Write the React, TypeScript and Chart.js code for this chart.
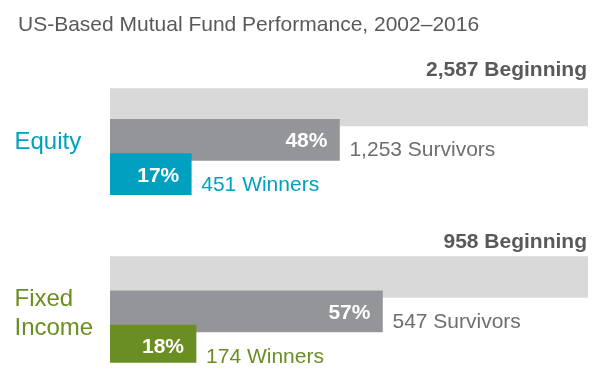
import React, { useEffect, useRef } from "react";
import { Chart, registerables } from "chart.js";

Chart.register(...registerables);

const TITLE = "US-Based Mutual Fund Performance, 2002–2016";
const groupNames = ["Equity", "Fixed Income"];
const groupLabelLines = [["Equity"], ["Fixed", "Income"]];
const beginningCounts = [2587, 958];
const survivorCounts = [1253, 547];
const winnerCounts = [451, 174];
const beginningPct = [100, 100];
const survivorPct = [48, 57];
const winnerPct = [17, 18];
const groupColors = ["#00a1be", "#6a8e22"];
const beginningColor = "#d9d9d9";
const survivorColor = "#939598";
const stageNames = ["Beginning", "Survivors", "Winners"];

const FONT = '"Liberation Sans", Arial, Helvetica, sans-serif';
const GAP_ROWS = 2;

const rows: string[] = [];
const rowIndex: number[][] = [];
groupNames.forEach((g, gi) => {
  if (gi > 0) for (let k = 0; k < GAP_ROWS; k++) rows.push("");
  const idx: number[] = [];
  stageNames.forEach((s) => {
    idx.push(rows.length);
    rows.push(`${g} ${s}`);
  });
  rowIndex.push(idx);
});

function seriesFor(stage: number, values: number[]) {
  const arr: (number | null)[] = rows.map(() => null);
  values.forEach((v, gi) => {
    arr[rowIndex[gi][stage]] = v;
  });
  return arr;
}

function colorsFor(stage: number) {
  const arr: string[] = rows.map(() => "transparent");
  groupColors.forEach((c, gi) => {
    arr[rowIndex[gi][stage]] = c;
  });
  return arr;
}

const fmt = (n: number) => n.toLocaleString("en-US");

const labelPlugin = {
  id: "fundLabels",
  afterDatasetsDraw(chart: any) {
    const ctx = chart.ctx as CanvasRenderingContext2D;
    ctx.save();
    ctx.textBaseline = "alphabetic";
    // title
    ctx.font = `21px ${FONT}`;
    ctx.fillStyle = "#595959";
    ctx.textAlign = "left";
    ctx.fillText(TITLE, 18, 31);

    const mB = chart.getDatasetMeta(0);
    const mS = chart.getDatasetMeta(1);
    const mW = chart.getDatasetMeta(2);

    groupNames.forEach((g, gi) => {
      const eB = mB.data[rowIndex[gi][0]];
      const eS = mS.data[rowIndex[gi][1]];
      const eW = mW.data[rowIndex[gi][2]];

      // beginning label
      ctx.font = `bold 21px ${FONT}`;
      ctx.fillStyle = "#595959";
      ctx.textAlign = "right";
      ctx.fillText(`${fmt(beginningCounts[gi])} Beginning`, eB.x - 1, eB.y - eB.height / 2 - 9);

      // survivors
      ctx.font = `bold 21px ${FONT}`;
      ctx.fillStyle = "#ffffff";
      ctx.textAlign = "right";
      ctx.fillText(`${survivorPct[gi]}%`, eS.x - 12, eS.y + 7.5);
      ctx.font = `21px ${FONT}`;
      ctx.fillStyle = "#6d6e71";
      ctx.textAlign = "left";
      ctx.fillText(`${fmt(survivorCounts[gi])} Survivors`, eS.x + 10, eS.y + 16.5);

      // winners
      ctx.font = `bold 21px ${FONT}`;
      ctx.fillStyle = "#ffffff";
      ctx.textAlign = "right";
      ctx.fillText(`${winnerPct[gi]}%`, eW.x - 12, eW.y + 7.5);
      ctx.font = `21px ${FONT}`;
      ctx.fillStyle = groupColors[gi];
      ctx.textAlign = "left";
      ctx.fillText(`${fmt(winnerCounts[gi])} Winners`, eW.x + 10, eW.y + 17);

      // group label
      const lines = groupLabelLines[gi];
      const lh = 29;
      ctx.font = `24px ${FONT}`;
      ctx.fillStyle = groupColors[gi];
      ctx.textAlign = "left";
      lines.forEach((ln, li) => {
        const base = eS.y + 9.5 + (li - (lines.length - 1) / 2) * lh;
        ctx.fillText(ln, 14.5, base);
      });
    });
    ctx.restore();
  },
};

export default function App() {
  const ref = useRef<HTMLCanvasElement | null>(null);
  useEffect(() => {
    if (!ref.current) return;
    const chart = new Chart(ref.current, {
      type: "bar",
      data: {
        labels: rows,
        datasets: [
          {
            label: "Beginning",
            data: seriesFor(0, beginningPct),
            backgroundColor: beginningColor,
            order: 3,
            grouped: false,
            barThickness: 41,
            borderWidth: 0,
          } as any,
          {
            label: "Survivors",
            data: seriesFor(1, survivorPct),
            backgroundColor: survivorColor,
            order: 2,
            grouped: false,
            barThickness: 41,
            borderWidth: 0,
          } as any,
          {
            label: "Winners",
            data: seriesFor(2, winnerPct),
            backgroundColor: colorsFor(2),
            order: 1,
            grouped: false,
            barThickness: 41,
            borderWidth: 0,
          } as any,
        ],
      },
      options: {
        indexAxis: "y",
        responsive: false,
        maintainAspectRatio: false,
        animation: false,
        devicePixelRatio: 1,
        layout: { padding: { left: 110, right: 14, top: 88.35, bottom: 19.25 } },
        scales: {
          x: { type: "linear", min: 0, max: 100, display: false },
          y: { type: "category", display: false, offset: true },
        },
        plugins: {
          legend: { display: false },
          tooltip: { enabled: false },
          title: { display: false },
        },
      },
      plugins: [labelPlugin],
    } as any);
    return () => chart.destroy();
  }, []);
  return (
    <div style={{ position: "absolute", left: 0, top: 0, width: 602, height: 382, background: "#ffffff" }}>
      <canvas ref={ref} width={602} height={382} style={{ display: "block" }} />
    </div>
  );
}
